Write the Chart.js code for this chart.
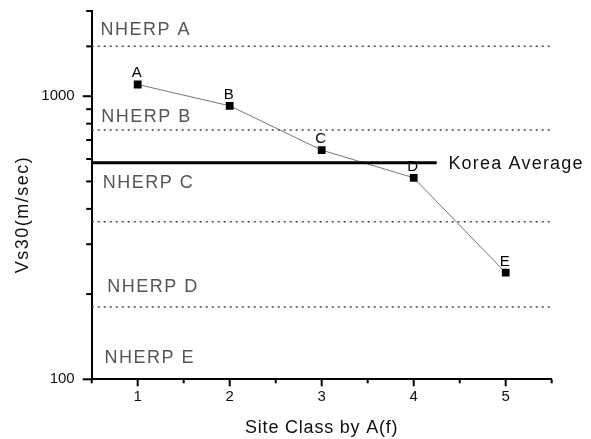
<!DOCTYPE html>
<html>
<head>
<meta charset="utf-8">
<script src="https://cdn.jsdelivr.net/npm/chart.js@4.4.1/dist/chart.umd.min.js"></script>
<style>
  html, body { margin: 0; padding: 0; background: #fff; }
  #wrap { width: 591px; height: 439px; }
</style>
</head>
<body>
<div id="wrap"><canvas id="chart" width="591" height="439"></canvas></div>
<script>
(function () {
  // ---------- data ----------
  var siteClass   = [1, 2, 3, 4, 5];
  var vs30        = [1100, 925, 645, 515, 238];
  var pointNames  = ['A', 'B', 'C', 'D', 'E'];
  var boundaries  = [1500, 760, 360, 180];          // NEHRP class limits (dotted)
  var koreaAvg    = 582;
  var koreaSpan   = [0.5, 4.25];
  var zoneNames   = ['NHERP A', 'NHERP B', 'NHERP C', 'NHERP D', 'NHERP E'];
  var yTickLabels = [100, 1000];

  // label anchors in data units (x, baseline y)
  var zoneAnchors = [[0.595, 1647], [0.603, 813], [0.621, 473], [0.668, 203], [0.640, 114]];
  var koreaAnchor = [4.377, 552];

  var FONT = '"Liberation Sans", Arial, sans-serif';

  function text(ctx, s, x, y, size, color, align, spacing) {
    ctx.save();
    ctx.font = size + 'px ' + FONT;
    ctx.fillStyle = color;
    ctx.textAlign = align || 'left';
    ctx.textBaseline = 'alphabetic';
    ctx.letterSpacing = (spacing || 0) + 'px';
    ctx.fillText(s, x, y);
    ctx.restore();
  }
  function seg(ctx, x1, y1, x2, y2) { ctx.beginPath(); ctx.moveTo(x1, y1); ctx.lineTo(x2, y2); ctx.stroke(); }

  // tick marks, annotations, titles
  var deco = {
    id: 'deco',
    afterDraw: function (chart) {
      var ctx = chart.ctx, xs = chart.scales.x, ys = chart.scales.y;
      ctx.save();
      ctx.strokeStyle = '#000'; ctx.lineWidth = 2;
      xs.ticks.forEach(function (t) {
        var px = xs.getPixelForValue(t.value);
        seg(ctx, px, xs.top, px, xs.top + (Number.isInteger(t.value) ? 7 : 4));
      });
      ys.ticks.forEach(function (t) {
        var py = ys.getPixelForValue(t.value);
        var major = Math.abs(Math.log10(t.value) % 1) < 1e-9;
        seg(ctx, ys.right, py, ys.right - (major ? 9 : 5.5), py);
      });
      ctx.restore();

      zoneNames.forEach(function (n, i) {
        text(ctx, n, xs.getPixelForValue(zoneAnchors[i][0]), ys.getPixelForValue(zoneAnchors[i][1]), 18, '#555', 'left', 1.5);
      });
      text(ctx, 'Korea Average', xs.getPixelForValue(koreaAnchor[0]), ys.getPixelForValue(koreaAnchor[1]), 18, '#111', 'left', 1.2);

      pointNames.forEach(function (n, i) {
        text(ctx, n, xs.getPixelForValue(siteClass[i]) - 1, ys.getPixelForValue(vs30[i]) - 7, 15, '#000', 'center', 0);
      });

      // axis titles
      text(ctx, 'Site Class by A(f)', (chart.chartArea.left + chart.chartArea.right) / 2, 433, 18, '#111', 'center', 0.8);
      ctx.save();
      ctx.translate(27.7, 214.5);
      ctx.rotate(-Math.PI / 2);
      text(ctx, 'Vs30(m/sec)', 0, 0, 18, '#111', 'center', 1.5);
      ctx.restore();
    }
  };

  var datasets = boundaries.map(function (v) {
    return {
      data: [{ x: 0.5, y: v }, { x: 5.5, y: v }],
      borderColor: '#444', borderWidth: 1.5, borderDash: [2, 4], pointRadius: 0
    };
  });
  datasets.push({
    data: [{ x: koreaSpan[0], y: koreaAvg }, { x: koreaSpan[1], y: koreaAvg }],
    borderColor: '#000', borderWidth: 3, pointRadius: 0
  });
  datasets.push({
    data: siteClass.map(function (x, i) { return { x: x, y: vs30[i] }; }),
    borderColor: '#777', borderWidth: 1,
    pointStyle: 'rect', pointRadius: 5.5,
    pointBackgroundColor: '#000', pointBorderColor: '#000', pointBorderWidth: 0
  });

  new Chart(document.getElementById('chart'), {
    type: 'line',
    data: { datasets: datasets },
    plugins: [deco],
    options: {
      responsive: false, animation: false, devicePixelRatio: 1,
      layout: { padding: { left: 0, top: 11, right: 39.3, bottom: 0 } },
      plugins: { legend: { display: false }, tooltip: { enabled: false } },
      scales: {
        x: {
          type: 'linear', min: 0.5, max: 5.5,
          grid: { display: false, drawTicks: false },
          border: { color: '#000', width: 2 },
          ticks: {
            stepSize: 0.5, autoSkip: false, maxRotation: 0, padding: 9,
            color: '#111', font: { family: FONT, size: 15 },
            callback: function (v) { return Number.isInteger(v) ? String(v) : ''; }
          },
          afterFit: function (s) { s.height = 59.7; s.paddingLeft = 0; s.paddingRight = 0; }
        },
        y: {
          type: 'logarithmic', min: 100, max: 2000,
          grid: { display: false, drawTicks: false },
          border: { color: '#000', width: 2 },
          ticks: {
            autoSkip: false, padding: 17,
            color: '#111', font: { family: FONT, size: 15 },
            callback: function (v) { return yTickLabels.indexOf(v) >= 0 ? String(v) : ''; }
          },
          // keep the plot top at the layout padding, not label height + tick padding
          afterFit: function (s) { s.width = 91.7; s.paddingTop = 0; s.paddingBottom = 0; }
        }
      }
    }
  });
})();
</script>
</body>
</html>
